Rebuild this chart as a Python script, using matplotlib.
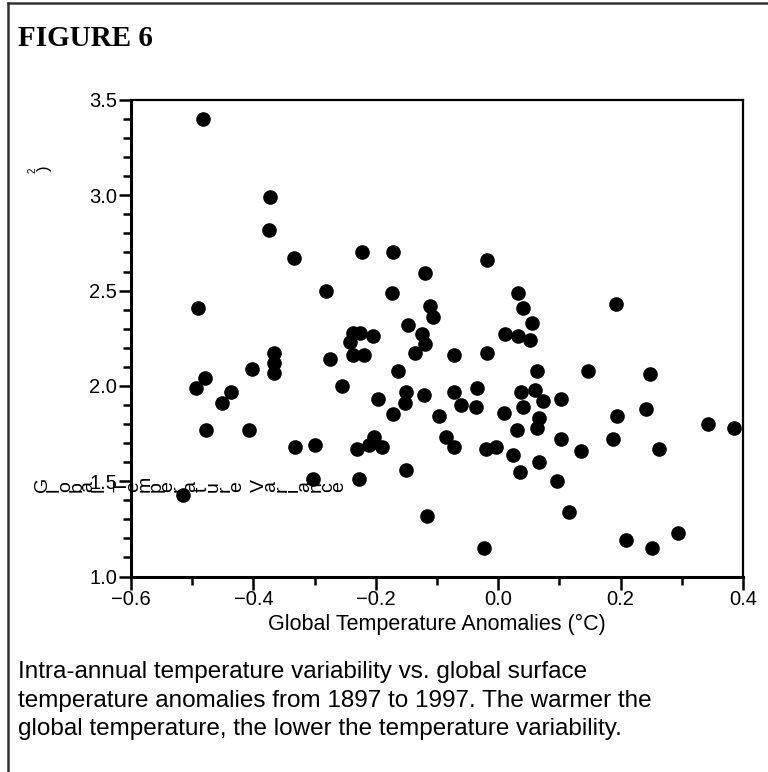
import matplotlib.pyplot as plt
from matplotlib.lines import Line2D
from matplotlib.ticker import MultipleLocator

# scatter values: global anomaly (°C) vs variance
anomaly = [-0.483, -0.373, -0.375, -0.334, -0.222, -0.172, -0.120, -0.281, -0.174, -0.491,
           -0.112, -0.107, -0.147, -0.125, -0.119, -0.136, -0.237, -0.226, -0.242, -0.205,
           -0.367, -0.367, -0.367, -0.275, -0.237, -0.220, -0.164, -0.256, -0.403, -0.479,
           -0.494, -0.437, -0.452, -0.477, -0.407, -0.332, -0.299, -0.303, -0.515, -0.231,
           -0.211, -0.203, -0.190, -0.227, -0.196, -0.172, -0.151, -0.153, -0.121, -0.151,
           -0.116, -0.018, 0.033, 0.041, 0.192, 0.056, -0.072, -0.018, 0.011, 0.033,
           0.052, 0.063, 0.146, 0.248, -0.072, -0.035, 0.038, 0.060, 0.074, 0.102,
           -0.096, -0.061, -0.037, 0.010, 0.041, 0.067, 0.063, 0.030, -0.085, -0.072,
           -0.020, -0.004, 0.024, 0.035, 0.066, 0.096, 0.102, 0.136, 0.187, 0.194,
           0.242, 0.263, 0.342, 0.385, -0.023, 0.115, 0.209, 0.252, 0.294]
variance = [3.40, 2.99, 2.82, 2.67, 2.70, 2.70, 2.59, 2.50, 2.49, 2.41,
            2.42, 2.36, 2.32, 2.27, 2.22, 2.17, 2.28, 2.28, 2.23, 2.26,
            2.17, 2.12, 2.07, 2.14, 2.16, 2.16, 2.08, 2.00, 2.09, 2.04,
            1.99, 1.97, 1.91, 1.77, 1.77, 1.68, 1.69, 1.51, 1.43, 1.67,
            1.69, 1.73, 1.68, 1.51, 1.93, 1.85, 1.97, 1.91, 1.95, 1.56,
            1.32, 2.66, 2.49, 2.41, 2.43, 2.33, 2.16, 2.17, 2.27, 2.26,
            2.24, 2.08, 2.08, 2.06, 1.97, 1.99, 1.97, 1.98, 1.92, 1.93,
            1.84, 1.90, 1.89, 1.86, 1.89, 1.83, 1.78, 1.77, 1.73, 1.68,
            1.67, 1.68, 1.64, 1.55, 1.60, 1.50, 1.72, 1.66, 1.72, 1.84,
            1.88, 1.67, 1.80, 1.78, 1.15, 1.34, 1.19, 1.15, 1.23]

xticks = [-0.6, -0.4, -0.2, 0.0, 0.2, 0.4]
xtick_labels = ['\u22120.6', '\u22120.4', '\u22120.2', '0.0', '0.2', '0.4']
yticks = [1.0, 1.5, 2.0, 2.5, 3.0, 3.5]
ytick_labels = ['1.0', '1.5', '2.0', '2.5', '3.0', '3.5']

title = 'FIGURE 6'
xlabel = 'Global Temperature Anomalies (\u00b0C)'
ylabel = 'Global Temperature Variance'
caption = ['Intra-annual temperature variability vs. global surface',
           'temperature anomalies from 1897 to 1997. The warmer the',
           'global temperature, the lower the temperature variability.']

W, H = 768, 772
fig = plt.figure(figsize=(W / 100, H / 100), dpi=100, facecolor='white')
ax = fig.add_axes([131 / W, 1 - 576.5 / H, 612 / W, 476.5 / H])

ax.plot(anomaly, variance, 'o', color='black', markersize=9.5, clip_on=False)

ax.set_xlim(-0.6, 0.4)
ax.set_ylim(1.0, 3.5)
ax.set_xticks(xticks)
ax.set_xticklabels(xtick_labels)
ax.set_yticks(yticks)
ax.set_yticklabels(ytick_labels)
ax.xaxis.set_minor_locator(MultipleLocator(0.1))
ax.yaxis.set_minor_locator(MultipleLocator(0.1))
ax.tick_params(which='major', direction='out', length=9, width=1.8, pad=1,
               labelsize=14.5, labelfontfamily='Liberation Sans')
ax.tick_params(which='minor', direction='out', length=6, width=1.8)
ax.tick_params(top=False, right=False)
for side in ['left', 'bottom']:
    ax.spines[side].set_linewidth(2.2)
for side in ['top', 'right']:
    ax.spines[side].set_linewidth(1.6)

ax.set_xlabel(xlabel, fontsize=15.5, family='Liberation Sans', labelpad=3)

# y label came out garbled in the original: each glyph turned on its side
for i, ch in enumerate(ylabel):
    fig.text((51 + i * 11.4) / W, 1 - 492 / H, ch, rotation=90, fontsize=14,
             family='Liberation Sans', ha='right', va='bottom')
fig.text(33 / W, 1 - 170 / H, '2', rotation=90, fontsize=7,
         family='Liberation Sans', ha='center', va='center')
fig.text(44 / W, 1 - 168 / H, ')', rotation=90, fontsize=12,
         family='Liberation Sans', ha='center', va='center')

fig.text(18 / W, 1 - 38 / H, title, fontsize=21, fontweight='bold',
         family='Liberation Serif', ha='left', va='center')

for i, line in enumerate(caption):
    fig.text(18 / W, 1 - (672 + i * 28.5) / H, line, fontsize=17.5,
             family='Liberation Sans', ha='left', va='center')

# page border (top and left only)
fig.add_artist(Line2D([8 / W, 1], [1 - 3 / H, 1 - 3 / H], color='#333333', lw=1.8))
fig.add_artist(Line2D([8 / W, 8 / W], [0, 1 - 3 / H], color='#333333', lw=1.8))

fig.savefig('out.png', dpi=100)
